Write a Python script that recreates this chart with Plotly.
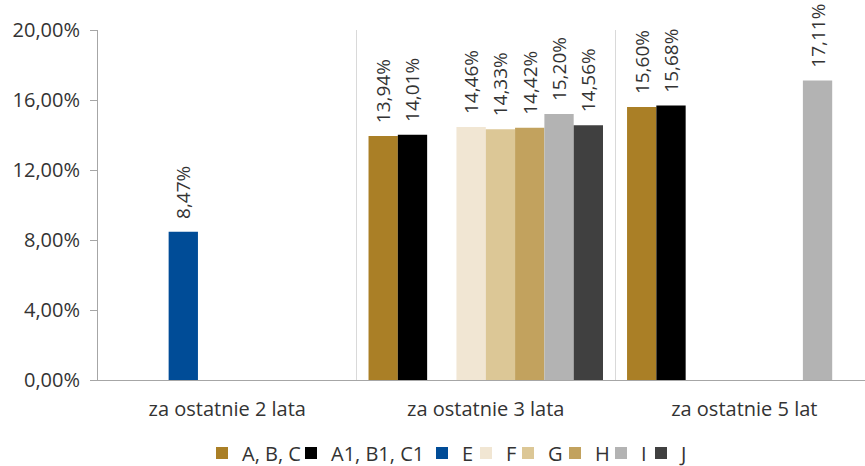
import plotly.graph_objects as go

# dane z wykresu (stopy zwrotu)
categories = ["za ostatnie 2 lata", "za ostatnie 3 lata", "za ostatnie 5 lat"]
series_names = ["A, B, C", "A1, B1, C1", "E", "F", "G", "H", "I", "J"]
abc = [None, 0.1394, 0.1560]
a1b1c1 = [None, 0.1401, 0.1568]
e_vals = [0.0847, None, None]
f_vals = [None, 0.1446, None]
g_vals = [None, 0.1433, None]
h_vals = [None, 0.1442, None]
i_vals = [None, 0.1520, 0.1711]
j_vals = [None, 0.1456, None]
y_ticks = [0, 0.04, 0.08, 0.12, 0.16, 0.20]

values = [abc, a1b1c1, e_vals, f_vals, g_vals, h_vals, i_vals, j_vals]
colors = ["#AA7F26", "#000000", "#004C97", "#F1E6D3",
          "#DCC796", "#C2A25E", "#B3B3B3", "#404040"]

# polozenie wpisow legendy (px od lewej krawedzi)
legend_x_px = [202, 291, 422, 466, 508, 555, 601, 641]

FONT = "Open Sans"
TXT = "#333333"
W, H = 865, 466
ML, MR, MT, MB = 98, 0, 30, 86
plot_w = W - ML - MR
plot_h = H - MT - MB

fig = go.Figure()
for k, (name, vals, col) in enumerate(zip(series_names, values, colors)):
    fig.add_trace(go.Bar(
        x=categories, y=vals, name=name,
        marker=dict(color=col, line=dict(width=0)),
        texttemplate="\u00a0\u00a0%{y:.2%}",
        textposition="outside", textangle=-90, constraintext="none",
        textfont=dict(family=FONT, size=19, color=TXT),
        cliponaxis=False,
        legend="legend" if k == 0 else f"legend{k + 1}",
    ))

legends = {}
for k, px in enumerate(legend_x_px):
    key = "legend" if k == 0 else f"legend{k + 1}"
    legends[key] = dict(
        orientation="h", x=(px - ML) / plot_w, xanchor="left",
        y=(380 - 453) / plot_h, yanchor="middle",
        font=dict(family=FONT, size=20, color=TXT),
        itemwidth=30, bgcolor="rgba(0,0,0,0)",
    )

fig.update_layout(
    width=W, height=H,
    margin=dict(l=ML, r=MR, t=MT, b=MB, autoexpand=False),
    barmode="group", bargap=0.093, bargroupgap=0,
    separators=", ",
    plot_bgcolor="white", paper_bgcolor="white",
    font=dict(family=FONT, size=20, color=TXT),
    showlegend=True,
    **legends,
)
fig.update_xaxes(
    range=[-0.5, 2.467], tickson="boundaries",
    showgrid=True, gridcolor="#D9D9D9", gridwidth=1,
    showline=True, linecolor="#A6A6A6", linewidth=1,
    ticks="", ticklabelstandoff=11,
)
fig.update_yaxes(
    range=[0, 0.20], tickvals=y_ticks, tickformat=".2%",
    showgrid=False, zeroline=False,
    showline=True, linecolor="#A6A6A6", linewidth=1,
    ticks="outside", ticklen=7, tickcolor="#A6A6A6",
    ticklabelstandoff=6,
)

fig.write_html("out.html", config={"displayModeBar": False},
               post_script="document.body.style.margin='0';")
